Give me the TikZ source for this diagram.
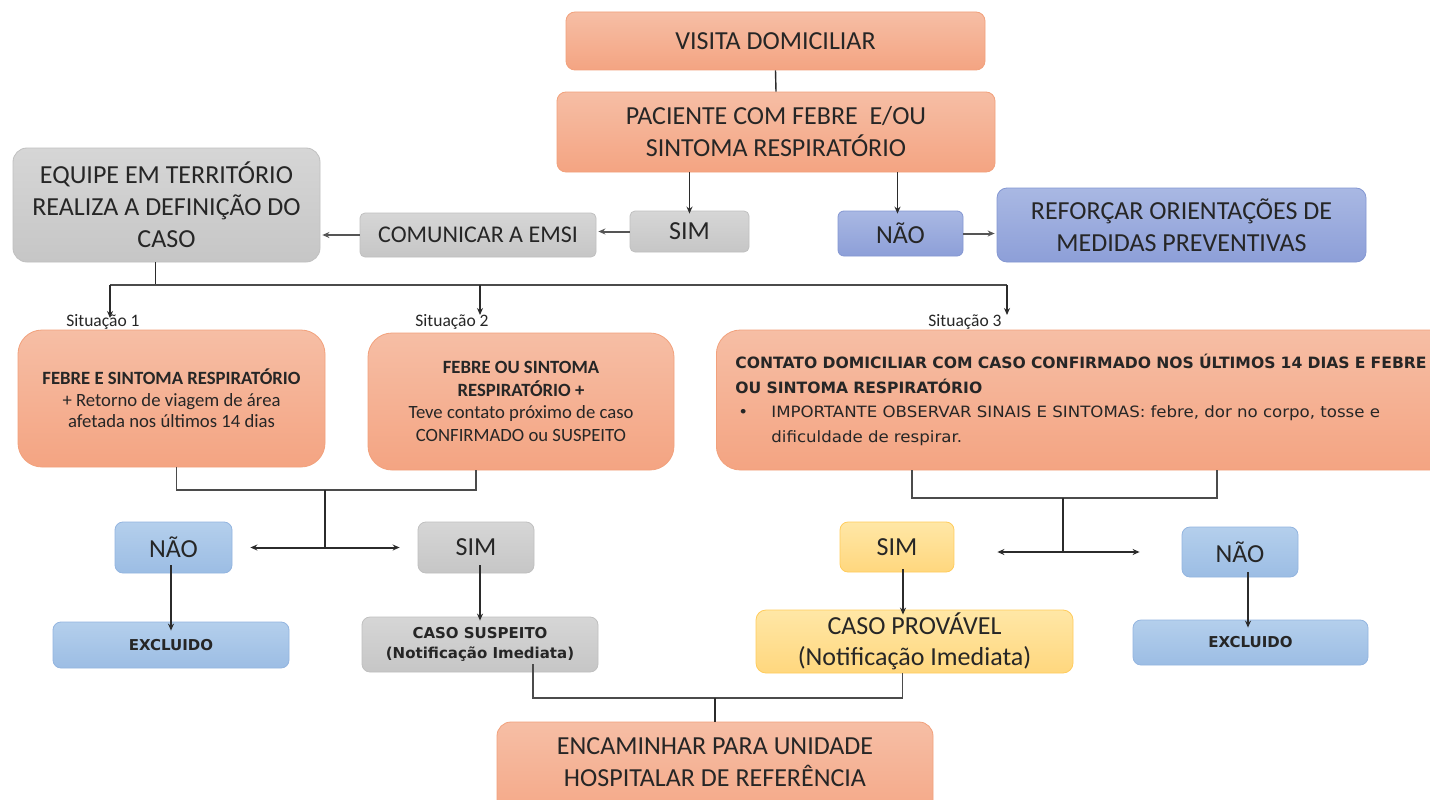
\documentclass[tikz,border=0pt]{standalone}
\usepackage{fontspec}
\setmainfont{Carlito}
\newfontfamily\verd{DejaVu Sans}
\newfontfamily\verdw[FakeStretch=1.065]{DejaVu Sans}
\usetikzlibrary{arrows.meta,calc}
\definecolor{txt}{HTML}{262626}
\definecolor{orA}{HTML}{F6BEA5}
\definecolor{orB}{HTML}{F4A482}
\definecolor{orD}{HTML}{F2A17C}
\definecolor{grA}{HTML}{D6D6D6}
\definecolor{grB}{HTML}{C6C6C6}
\definecolor{grD}{HTML}{C0C0C0}
\definecolor{puA}{HTML}{A9B8E3}
\definecolor{puB}{HTML}{8D9FD8}
\definecolor{puD}{HTML}{8497D2}
\definecolor{blA}{HTML}{B4CFEC}
\definecolor{blB}{HTML}{9CBDE4}
\definecolor{blD}{HTML}{93B5E0}
\definecolor{yeA}{HTML}{FFE7A6}
\definecolor{yeB}{HTML}{FFD77E}
\definecolor{yeD}{HTML}{FFCC5C}
\definecolor{ln}{HTML}{2B2B2B}
\begin{document}
\begin{tikzpicture}[x=1pt,y=-1pt,
  wh/.style 2 args={minimum width=#1pt, minimum height=#2pt},
  base/.style={rounded corners=9pt, align=center, inner sep=0pt, text=txt, line width=0.8pt},
  orbox/.style={base, top color=orA, bottom color=orB, draw=orD},
  grbox/.style={base, top color=grA, bottom color=grB, draw=grD},
  pubox/.style={base, top color=puA, bottom color=puB, draw=puD},
  blbox/.style={base, top color=blA, bottom color=blB, draw=blD},
  yebox/.style={base, top color=yeA, bottom color=yeB, draw=yeD},
  bigf/.style={font=\fontsize{26}{32}\selectfont},
  midf/.style={font=\fontsize{24}{30}\selectfont},
  smf/.style={font=\fontsize{18.7}{21.5}\selectfont},
  vbf/.style={font=\verd\bfseries\fontsize{15}{20.5}\selectfont},
  lab/.style={font=\fontsize{17.5}{18}\selectfont, text=txt, inner sep=0pt},
  arr/.style={-{Stealth[length=7pt,width=6pt]}, line width=1.3pt, draw=ln},
  harr/.style={-{Stealth[length=7pt,width=6pt]}, line width=2pt, draw=ln!80},
  dbl/.style={{Stealth[length=7pt,width=6pt]}-{Stealth[length=7pt,width=6pt]}, line width=2pt, draw=ln},
  bus/.style={line width=1.8pt, draw=ln!85},
  thin/.style={line width=1.4pt, draw=ln}
]
\useasboundingbox (0,0) rectangle (1430,800);
\clip (0,0) rectangle (1430,800);
\fill[white] (0,0) rectangle (1430,800);

% top
\node[orbox, wh={419}{58}, bigf] (visita) at (775.5,41) {VISITA DOMICILIAR};
\node[orbox, wh={438}{80}, bigf] (paciente) at (776,132) {PACIENTE COM FEBRE\ \ E/OU\\SINTOMA RESPIRATÓRIO};
\node[grbox, wh={307}{114}, bigf, rounded corners=14pt] (equipe) at (166.5,205) {EQUIPE EM TERRITÓRIO\\REALIZA A DEFINIÇÃO DO\\CASO};
\node[grbox, wh={236}{44}, midf, rounded corners=5pt] (comunicar) at (478,235) {COMUNICAR A EMSI};
\node[grbox, wh={119}{41}, bigf, rounded corners=5pt] (sim1) at (689.5,231.5) {SIM};
\node[pubox, wh={125}{45}, bigf, rounded corners=6pt] (nao1) at (900.5,233.5) {NÃO};
\node[pubox, wh={369}{74}, bigf, rounded corners=10pt] (reforcar) at (1181.5,225) {REFORÇAR ORIENTAÇÕES DE\\MEDIDAS PREVENTIVAS};

\draw[thin] (visita.south) -- (paciente.north);
\draw[arr] (paciente.south -| sim1) -- ([yshift=-3pt]sim1.north);
\draw[arr] ([xshift=-3pt]paciente.south -| nao1) -- ([xshift=-3pt,yshift=-3pt]nao1.north);
\draw[harr] (sim1.west) -- ([xshift=2pt]sim1.west -| comunicar.east);
\draw[harr] (comunicar.west) -- ([xshift=2pt]comunicar.west -| equipe.east);
\draw[harr] (nao1.east) -- ([xshift=-2pt]nao1.east -| reforcar.west);

% situation labels
\node[lab] (l1) at (103,322) {Situação 1};
\node[lab] (l2) at (452,322) {Situação 2};
\node[lab] (l3) at (965,322) {Situação 3};

\coordinate (busL) at (110,285);
\coordinate (busR) at (1007,285);
\coordinate (busM) at (480,285);
\draw[thin] ([xshift=-11pt]equipe.south) -- ([xshift=-11pt]equipe.south |- busL);
\draw[bus] (busL) -- (busR);
\draw[arr] (busL) -- ++(0,33);
\draw[arr] (busM) -- ++(0,30);
\draw[arr] (busR) -- ++(0,30);

% situation boxes
\node[orbox, wh={307}{137}, smf, rounded corners=24pt] (sit1) at (171.5,398.5)
  {\textbf{FEBRE E SINTOMA RESPIRATÓRIO}\\+ Retorno de viagem de área\\afetada nos últimos 14 dias};
\node[orbox, wh={306}{137}, smf, rounded corners=24pt, font=\fontsize{18.7}{22.7}\selectfont] (sit2) at (521,401.5)
  {\textbf{FEBRE OU SINTOMA}\\\textbf{RESPIRATÓRIO +}\\Teve contato próximo de caso\\CONFIRMADO ou SUSPEITO};
\node[orbox, wh={760}{140}, rounded corners=24pt, anchor=west, align=left, text width=722pt,
      font=\verd\fontsize{15.6}{24.5}\selectfont, inner xsep=19pt] (sit3) at (716,400)
  {\textbf{CONTATO DOMICILIAR COM CASO CONFIRMADO NOS ÚLTIMOS 14 DIAS E FEBRE}\\
   \textbf{OU SINTOMA RESPIRATÓRIO}\\
   \verdw\makebox[36pt][l]{\hspace*{3pt}•}IMPORTANTE OBSERVAR SINAIS E SINTOMAS: febre, dor no corpo, tosse e\\
   \hspace*{36pt}dificuldade de respirar.};

% second level left
\node[blbox, wh={117}{51}, bigf, rounded corners=8pt] (nao2) at (173.5,547.5) {NÃO};
\node[grbox, wh={116}{51}, bigf, rounded corners=8pt] (sim2) at (476,547.5) {SIM};
\node[blbox, wh={236}{46}, vbf, rounded corners=8pt] (excl1) at (171,645) {EXCLUIDO};
\node[grbox, wh={236}{55}, vbf, rounded corners=8pt] (suspeito) at (480,644.5) {CASO SUSPEITO\\(Notificação Imediata)};

\coordinate (j1) at (325,490);
\draw[bus] ([xshift=5pt]sit1.south) |- (j1) -| (sit2.south -| sim2);
\draw[thin] (j1) -- (j1 |- nao2);
\draw[dbl] ([xshift=18pt]nao2.east) -- ([xshift=-18pt]sim2.west);
\draw[arr] ([yshift=8pt]nao2.south -| excl1) -- ([yshift=-9pt]excl1.north);
\draw[arr] ([yshift=8pt]sim2.south -| suspeito) -- ([yshift=-4pt]suspeito.north);

% second level right
\node[yebox, wh={114}{50}, bigf, rounded corners=8pt] (sim3) at (897,547) {SIM};
\node[blbox, wh={116}{50}, bigf, rounded corners=8pt] (nao3) at (1240,552) {NÃO};
\node[yebox, wh={317}{63}, bigf, rounded corners=10pt, font=\fontsize{26}{31}\selectfont] (provavel) at (914.5,641.5) {CASO PROVÁVEL\\(Notificação Imediata)};
\node[blbox, wh={235}{45}, vbf, rounded corners=8pt] (excl2) at (1250.5,642.5) {EXCLUIDO};

\coordinate (s3a) at (912,470);
\coordinate (s3b) at (1217,470);
\coordinate (j2) at (1063,498);
\draw[bus] (s3a) |- (j2) -| (s3b);
\draw[thin] (j2) -- (j2 |- nao3);
\draw[dbl] ([xshift=43pt]sim3.east |- nao3) -- ([xshift=-42pt]nao3.west);
\draw[arr] ([xshift=6pt,yshift=3pt]sim3.south) -- ([xshift=6pt,yshift=-5pt]sim3.south |- provavel.north);
\draw[arr] ([xshift=8pt,yshift=5pt]nao3.south) -- ([xshift=8pt,yshift=-8pt]nao3.south |- excl2.north);

% bottom
\node[orbox, wh={436}{110}, bigf, rounded corners=14pt] (encaminhar) at (715,777) {};
\node[bigf, text=txt, align=center, inner sep=0pt] (enctxt) at (715,762) {ENCAMINHAR PARA UNIDADE\\HOSPITALAR DE REFERÊNCIA};
\coordinate (j3) at (715,698);
\draw[bus] ([xshift=53pt,yshift=8pt]suspeito.south) |- (j3) -| ([xshift=-12pt]provavel.south);
\draw[thin] (j3) -- (encaminhar.north);
\end{tikzpicture}
\end{document}
